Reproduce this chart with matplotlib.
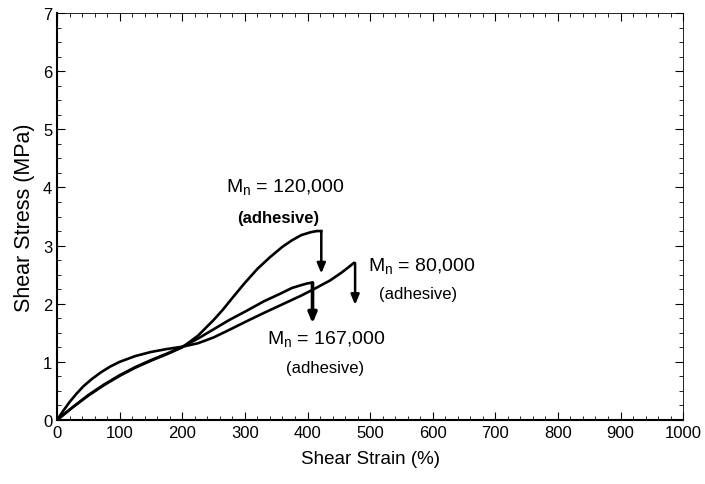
import matplotlib
matplotlib.use('Agg')
import matplotlib.pyplot as plt
from matplotlib.ticker import MultipleLocator

plt.rcParams['font.family'] = ['Liberation Sans', 'DejaVu Sans']

# Mn = 120,000
x_120 = [0, 10, 25, 50, 75, 100, 125, 150, 175, 200, 225, 250, 265, 280, 300,
         320, 340, 360, 375, 390, 405, 415, 422]
y_120 = [0, 0.09, 0.22, 0.42, 0.60, 0.76, 0.90, 1.02, 1.13, 1.25, 1.45, 1.72,
         1.90, 2.10, 2.36, 2.60, 2.80, 2.98, 3.09, 3.18, 3.23, 3.25, 3.25]
# Mn = 80,000
x_80 = [0, 10, 20, 30, 42, 55, 70, 85, 100, 125, 150, 175, 200, 225, 250, 275,
        303, 330, 360, 390, 410, 436, 455, 474]
y_80 = [0, 0.16, 0.31, 0.44, 0.58, 0.70, 0.82, 0.92, 1.0, 1.10, 1.17, 1.22,
        1.26, 1.32, 1.42, 1.55, 1.70, 1.84, 1.99, 2.14, 2.25, 2.40, 2.54, 2.70]
# Mn = 167,000
x_167 = [0, 25, 50, 75, 100, 125, 150, 175, 200, 225, 250, 275, 303, 330, 356,
         375, 390, 400, 406]
y_167 = [0, 0.22, 0.43, 0.61, 0.77, 0.91, 1.03, 1.14, 1.26, 1.40, 1.56, 1.72,
         1.88, 2.04, 2.17, 2.27, 2.32, 2.35, 2.36]

# failure drops (arrows): x, from, to
drops = [(422, 3.25, 2.52), (476, 2.70, 1.98), (408, 2.36, 1.66)]

fig = plt.figure(figsize=(7.05, 4.85), dpi=100)
ax = fig.add_axes([0.081, 0.132, 0.888, 0.839])

for xs, ys in [(x_120, y_120), (x_80, y_80), (x_167, y_167)]:
    ax.plot(xs, ys, color='black', lw=1.9, solid_joinstyle='round')

for i, (xd, y0, y1) in enumerate(drops):
    lw = 2.6 if i == 2 else 1.8
    ax.annotate('', xy=(xd, y1), xytext=(xd, y0),
                arrowprops=dict(arrowstyle='-|>,head_length=0.6,head_width=0.25',
                                color='black', lw=lw, shrinkA=0, shrinkB=0))

ax.text(270, 4.01, r'M$_\mathregular{n}$ = 120,000', fontsize=14, va='center', ha='left')
ax.text(353, 3.48, '(adhesive)', fontsize=12, va='center', ha='center', fontweight='bold')
ax.text(497, 2.65, r'M$_\mathregular{n}$ = 80,000', fontsize=14, va='center', ha='left')
ax.text(577, 2.17, '(adhesive)', fontsize=12, va='center', ha='center')
ax.text(335, 1.40, r'M$_\mathregular{n}$ = 167,000', fontsize=14, va='center', ha='left')
ax.text(428, 0.91, '(adhesive)', fontsize=12, va='center', ha='center')

ax.set_xlim(0, 1000)
ax.set_ylim(0, 7)
ax.xaxis.set_major_locator(MultipleLocator(100))
ax.xaxis.set_minor_locator(MultipleLocator(20))
ax.yaxis.set_major_locator(MultipleLocator(1))
ax.yaxis.set_minor_locator(MultipleLocator(0.25))
ax.tick_params(which='both', direction='in', top=True, right=True, labelsize=12)
ax.tick_params(which='major', length=6, width=0.8)
ax.tick_params(which='minor', length=3, width=0.6)
ax.spines['left'].set_linewidth(1.5)
ax.spines['bottom'].set_linewidth(1.5)
ax.spines['top'].set_linewidth(0.6)
ax.spines['right'].set_linewidth(0.6)

ax.set_xlabel('Shear Strain (%)', fontsize=13.5, labelpad=7)
ax.set_ylabel('Shear Stress (MPa)', fontsize=15.5, labelpad=6)

fig.savefig('out.png', dpi=100)
